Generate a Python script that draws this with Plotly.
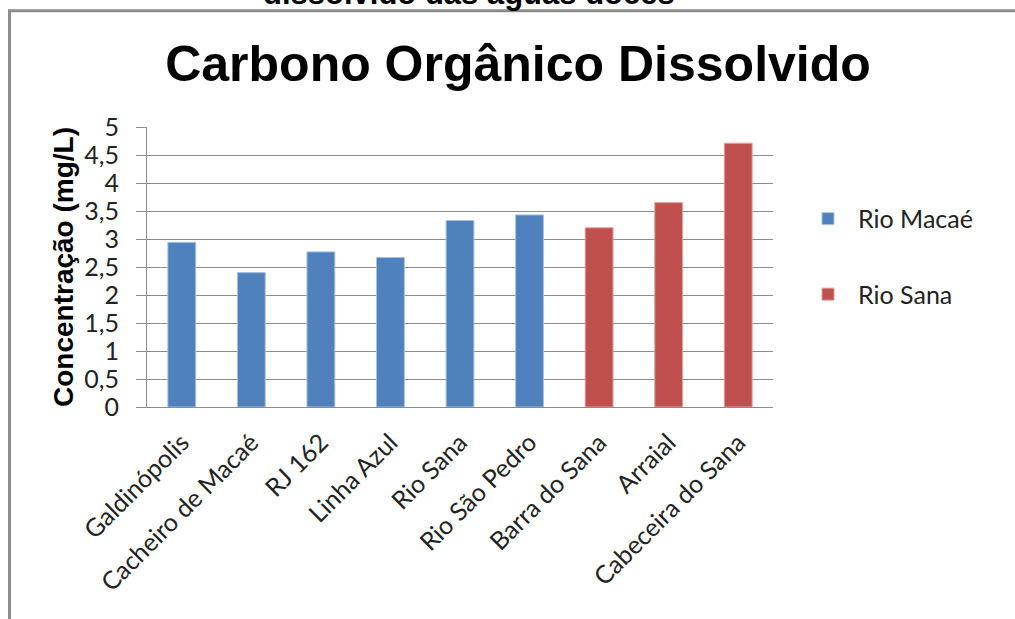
import plotly.graph_objects as go

categories = ["Galdinópolis", "Cacheiro de Macaé", "RJ 162", "Linha Azul", "Rio Sana",
              "Rio São Pedro", "Barra do Sana", "Arraial", "Cabeceira do Sana"]
rio_macae = [2.94, 2.40, 2.77, 2.67, 3.33, 3.43, None, None, None]
rio_sana = [None, None, None, None, None, None, 3.20, 3.65, 4.71]
y_tickvals = [0, 0.5, 1, 1.5, 2, 2.5, 3, 3.5, 4, 4.5, 5]
y_ticktext = ["0", "0,5", "1", "1,5", "2", "2,5", "3", "3,5", "4", "4,5", "5"]

W, H = 1015, 619
L, R, T, B = 147, 242, 127, 211.5
pw, ph = W - L - R, H - T - B


def px(x):
    return (x - L) / pw


def py(y):
    return (H - B - y) / ph


fig = go.Figure()
fig.add_trace(go.Bar(x=categories, y=rio_macae, name="Rio Macaé", width=0.4,
                     marker=dict(color="#4F81BD", line=dict(color="#A7C0DE", width=1)),
                     legendgroup="a"))
fig.add_trace(go.Bar(x=categories, y=rio_sana, name="Rio Sana", width=0.4,
                     marker=dict(color="#C0504D", line=dict(color="#E0A09E", width=1)),
                     legendgroup="b"))

grid = "#8C8C8C"
lab = "Lato, Carlito, sans-serif"
fig.update_layout(
    width=W, height=H,
    margin=dict(l=L, r=R, t=T, b=B),
    paper_bgcolor="white", plot_bgcolor="white",
    barmode="overlay",
    title=dict(text="<b>Carbono Orgânico Dissolvido</b>", x=(518) / W, xanchor="center",
               y=1 - 63 / H, yanchor="middle",
               font=dict(family="Liberation Sans, Arial", size=50, color="black")),
    legend=dict(x=px(798), y=py(196), xanchor="left", yanchor="top",
                font=dict(family=lab, size=25, color="#222"),
                itemwidth=50,
                tracegroupgap=40, bgcolor="rgba(0,0,0,0)"),
    xaxis=dict(showline=True, linecolor=grid, linewidth=1, ticks="", tickangle=-45,
               ticklabelstandoff=10,
               tickfont=dict(family=lab, size=25, color="#222")),
    yaxis=dict(range=[0, 5], tickvals=y_tickvals, ticktext=y_ticktext,
               showgrid=True, gridcolor=grid, gridwidth=1,
               showline=True, linecolor=grid, linewidth=1,
               ticks="outside", ticklen=10, tickcolor=grid,
               ticklabelstandoff=12,
               zeroline=False,
               tickfont=dict(family=lab, size=25, color="#222"),
               title=dict(text="<b>Concentração (mg/L)</b>", standoff=2,
                          font=dict(family="Liberation Sans, Arial", size=28, color="black"))),
    annotations=[dict(text="<b>dissolvido das águas doces</b>", xref="paper", yref="paper",
                      x=px(469), y=py(13), xanchor="center", yanchor="bottom",
                      showarrow=False,
                      font=dict(family="Liberation Sans, Arial", size=31, color="black"))],
    shapes=[dict(type="path", xref="paper", yref="paper",
                 path=f"M {px(9.5)},{py(640)} L {px(9.5)},{py(10.5)} L {px(1030)},{py(10.5)}",
                 line=dict(color="#8C8C8C", width=3))],
)

fig.write_html("out.html")
